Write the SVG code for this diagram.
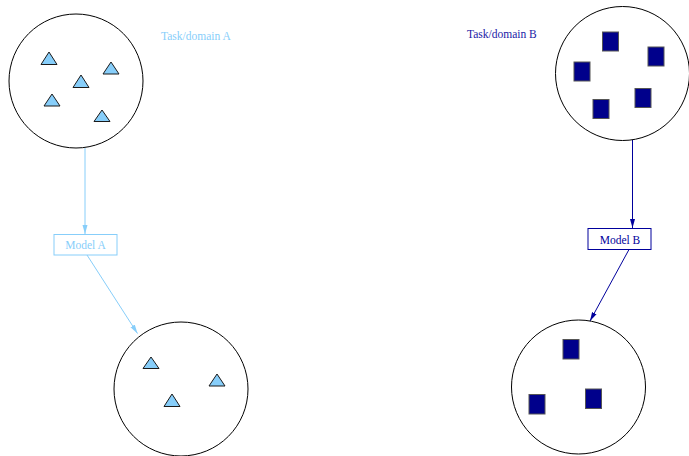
<svg xmlns="http://www.w3.org/2000/svg" width="689" height="456" viewBox="0 0 689 456">
<style>
.dom{fill:#fff;stroke:#000;stroke-width:1}
.tri{fill:#87CEFA;stroke:#1a1a1a;stroke-width:1}
.sq{fill:#00008B;stroke:#555;stroke-width:1}
.lbl{font-family:"Liberation Serif","Times New Roman",serif;font-size:11.5px}
.ca{stroke:#87CEFA;stroke-width:1;fill:none}
.cb{stroke:#00009C;stroke-width:1;fill:none}
</style>
<defs>
<marker id="ma" markerUnits="userSpaceOnUse" markerWidth="10" markerHeight="8" refX="9" refY="3" orient="auto"><path d="M0,0.5 L9,3 L0,5.5 z" fill="#87CEFA"/></marker>
<marker id="mb" markerUnits="userSpaceOnUse" markerWidth="10" markerHeight="8" refX="9" refY="3" orient="auto"><path d="M0,0.5 L9,3 L0,5.5 z" fill="#00009C"/></marker>
</defs>
<g id="connectors">
<line class="ca" x1="85" y1="148" x2="85" y2="234" marker-end="url(#ma)"/>
<line class="ca" x1="87" y1="255" x2="137.5" y2="333.5" marker-end="url(#ma)"/>
<line class="cb" x1="632.5" y1="140" x2="632.5" y2="228" marker-end="url(#mb)"/>
<line class="cb" x1="629" y1="249.5" x2="590" y2="321" marker-end="url(#mb)"/>
</g>
<g id="domainA-top">
<circle class="dom" cx="76" cy="81" r="67"/>
<polygon class="tri" points="49,52 41,64.5 57,64.5"/>
<polygon class="tri" points="111,62 103,74 119,74"/>
<polygon class="tri" points="81,75 73,87.5 89,87.5"/>
<polygon class="tri" points="52,94 44,106 60,106"/>
<polygon class="tri" points="102,110 94,121.5 110,121.5"/>
</g>
<g id="labelA"><text class="lbl" x="161" y="39.5" fill="#87CEFA">Task/domain A</text></g>
<g id="modelA">
<rect x="54" y="234.5" width="63" height="20.5" fill="#fff" stroke="#87CEFA" stroke-width="1"/>
<text class="lbl" x="85.5" y="249" text-anchor="middle" fill="#87CEFA">Model A</text>
</g>
<g id="domainA-bottom">
<circle class="dom" cx="181" cy="389" r="67"/>
<polygon class="tri" points="151,357 143,368.5 159,368.5"/>
<polygon class="tri" points="217,374 209,386 225,386"/>
<polygon class="tri" points="172,394 164,406.5 180,406.5"/>
</g>
<g id="domainB-top">
<circle class="dom" cx="622.5" cy="73.5" r="67"/>
<rect class="sq" x="602.5" y="32" width="16" height="19"/>
<rect class="sq" x="648" y="47" width="16" height="19"/>
<rect class="sq" x="574" y="62" width="16" height="19"/>
<rect class="sq" x="635" y="88.5" width="16" height="19"/>
<rect class="sq" x="593" y="99.5" width="16" height="19"/>
</g>
<g id="labelB"><text class="lbl" x="467" y="38" fill="#1a1aa6">Task/domain B</text></g>
<g id="modelB">
<rect x="588" y="228.5" width="63" height="21" fill="#fff" stroke="#00009C" stroke-width="1"/>
<text class="lbl" x="620" y="244" text-anchor="middle" fill="#00009C">Model B</text>
</g>
<g id="domainB-bottom">
<circle class="dom" cx="578.5" cy="387" r="67"/>
<rect class="sq" x="563" y="339.5" width="16" height="19.5"/>
<rect class="sq" x="585.5" y="389" width="16" height="19.5"/>
<rect class="sq" x="529" y="394.5" width="16" height="19.5"/>
</g>
</svg>
